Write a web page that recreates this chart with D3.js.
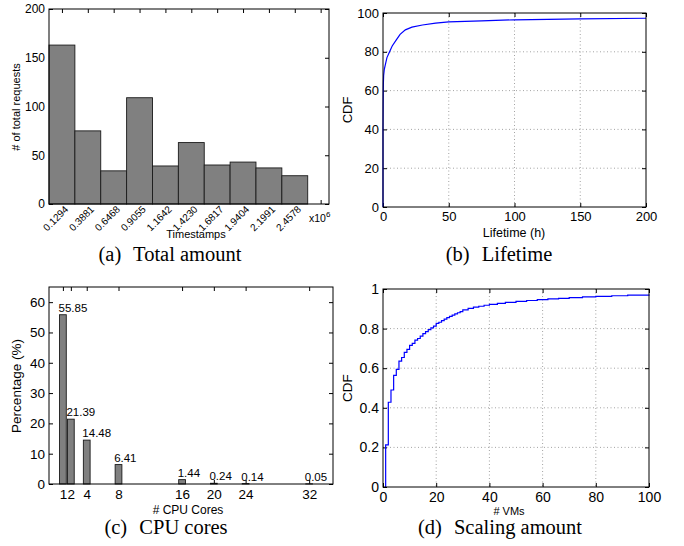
<!DOCTYPE html>
<html>
<head>
<meta charset="utf-8">
<script src="https://cdn.jsdelivr.net/npm/d3@7"></script>
<style>
  body { margin: 0; background: #fff; }
  svg text { font-family: "Liberation Sans", Arial, sans-serif; fill: #000; }
  svg .cap { font-family: "Liberation Serif", "Times New Roman", serif; font-size: 20.5px; }
</style>
</head>
<body>
<svg width="684" height="546"></svg>
<script>
// (a) total requests per timestamp bin (x10^6)
var binCenters = [0.1294, 0.3881, 0.6468, 0.9055, 1.1642, 1.4230, 1.6817, 1.9404, 2.1991, 2.4578, 2.7165];
var binLabels  = ['0.1294', '0.3881', '0.6468', '0.9055', '1.1642', '1.4230', '1.6817', '1.9404', '2.1991', '2.4578', ''];
var binCounts  = [163, 75, 34, 109, 39, 63, 40, 43, 37, 29];
var binWidth = 0.2587;

// (b) lifetime CDF
var lifeHours = [0, 0, 0.1, 0.2, 0.3, 0.5, 1, 2, 3, 5, 7, 10, 13, 17, 22, 30, 40, 50, 75, 100, 150, 200];
var lifeCdf   = [0, 40, 52, 60, 64, 68, 71, 74, 77, 80, 83, 86, 89, 91.3, 92.7, 93.8, 94.8, 95.4, 95.9, 96.5, 97.0, 97.3];

// (c) CPU cores share
var cores   = [1, 2, 4, 8, 16, 20, 24, 32];
var corePct = [55.85, 21.39, 14.48, 6.41, 1.44, 0.24, 0.14, 0.05];

// (d) scaling amount CDF (step)
var vms   = [1, 1, 2, 3, 4, 5, 6, 7, 8, 9, 10, 11, 12, 13, 14, 15, 16, 17, 18, 19, 20, 21, 22, 23, 24, 25, 26, 27, 28, 29, 30,
             32, 34, 36, 38, 40, 43, 46, 50, 54, 58, 62, 66, 70, 75, 80, 86, 92, 100];
var vmCdf = [0, 0.213, 0.428, 0.49, 0.564, 0.594, 0.636, 0.654, 0.68, 0.695, 0.715, 0.725, 0.742, 0.75, 0.762, 0.775, 0.785,
             0.795, 0.804, 0.812, 0.826, 0.832, 0.84, 0.848, 0.855, 0.862, 0.868, 0.874, 0.88, 0.886, 0.895,
             0.902, 0.908, 0.913, 0.918, 0.922, 0.927, 0.932, 0.937, 0.942, 0.946, 0.95, 0.953, 0.956, 0.96, 0.963, 0.966, 0.969, 0.972];

var svg = d3.select('svg');

// inward ticks on all four sides, like matlab
function frame(g, x, y, o) {
  var x0 = x.range()[0], x1 = x.range()[1], y0 = y.range()[1], y1 = y.range()[0];
  if (o.grid) {
    g.append('g').selectAll('line').data(o.xticks.filter(function(t){ return x(t) > x0 + 1 && x(t) < x1 - 1; }))
      .enter().append('line')
      .attr('x1', function(d){ return x(d); }).attr('x2', function(d){ return x(d); })
      .attr('y1', y0).attr('y2', y1)
      .attr('stroke', '#999').attr('stroke-width', 0.9).attr('stroke-dasharray', '1,2.5');
    g.append('g').selectAll('line').data(o.yticks.filter(function(t){ return y(t) > y0 + 1 && y(t) < y1 - 1; }))
      .enter().append('line')
      .attr('y1', function(d){ return y(d); }).attr('y2', function(d){ return y(d); })
      .attr('x1', x0).attr('x2', x1)
      .attr('stroke', '#999').attr('stroke-width', 0.9).attr('stroke-dasharray', '1,2.5');
  }
  var fs = o.fs || 12;
  var left = g.append('g').attr('transform', 'translate(' + x0 + ',0)')
    .call(d3.axisLeft(y).tickValues(o.yticks).tickSize(-4).tickPadding(4).tickFormat(o.yfmt || null));
  var right = g.append('g').attr('transform', 'translate(' + x1 + ',0)')
    .call(d3.axisRight(y).tickValues(o.yticks).tickSize(-4).tickFormat(''));
  var bottom = g.append('g').attr('transform', 'translate(0,' + y1 + ')')
    .call(d3.axisBottom(x).tickValues(o.xticks).tickSize(-4).tickPadding(5).tickFormat(o.xfmt || null));
  var top = g.append('g').attr('transform', 'translate(0,' + y0 + ')')
    .call(d3.axisTop(x).tickValues(o.xticks).tickSize(-4).tickFormat(''));
  [left, right, bottom, top].forEach(function(a){
    a.select('.domain').remove();
    a.selectAll('line').attr('stroke', '#000');
    a.selectAll('text').attr('font-size', fs).attr('font-family', null).attr('fill', '#000');
  });
  return { x0: x0, x1: x1, y0: y0, y1: y1 };
}

function box(g, f) {
  g.append('rect').attr('x', f.x0).attr('y', f.y0).attr('width', f.x1 - f.x0).attr('height', f.y1 - f.y0)
    .attr('fill', 'none').attr('stroke', '#000').attr('stroke-width', 1);
}

function ylabel(g, txt, cx, cy, fs) {
  g.append('text').attr('transform', 'translate(' + cx + ',' + cy + ') rotate(-90)')
    .attr('text-anchor', 'middle').attr('font-size', fs).text(txt);
}

function caption(g, tag, txt, cx, by) {
  var t = g.append('text').attr('class', 'cap').attr('x', cx).attr('y', by).attr('text-anchor', 'middle');
  t.append('tspan').text(tag);
  t.append('tspan').attr('dx', 7).text(' ' + txt);
}

// ---------- (a) ----------
var ga = svg.append('g');
var xa = d3.scaleLinear().domain([0, 2.8]).range([49, 329]);
var ya = d3.scaleLinear().domain([0, 200]).range([204, 9]);

var fa = frame(ga, xa, ya, { xticks: binCenters, yticks: [0, 50, 100, 150, 200], xfmt: function(){ return ''; }, fs: 12 });

ga.selectAll('rect.bar').data(binCounts).enter().append('rect')
  .attr('class', 'bar')
  .attr('x', function(d, i){ return xa(binCenters[i] - binWidth / 2); })
  .attr('width', xa(binWidth) - xa(0))
  .attr('y', function(d){ return ya(d); })
  .attr('height', function(d){ return ya(0) - ya(d); })
  .attr('fill', '#808080').attr('stroke', '#1a1a1a').attr('stroke-width', 0.9);

box(ga, fa);

ga.selectAll('text.xl').data(binLabels).enter().append('text')
  .attr('class', 'xl')
  .attr('text-anchor', 'end').attr('font-size', 10)
  .attr('transform', function(d, i){ return 'translate(' + (xa(binCenters[i]) + 7) + ',' + 210 + ') rotate(-45)'; })
  .text(function(d){ return d; });

var xm = ga.append('text').attr('x', 309).attr('y', 222).attr('font-size', 10.5);
xm.append('tspan').text('x10');
xm.append('tspan').attr('dy', -5).attr('font-size', 8).text('6');

ga.append('text').attr('x', 196).attr('y', 238).attr('text-anchor', 'middle').attr('font-size', 11).text('Timestamps');
ylabel(ga, '# of total requests', 20, 107, 11);
caption(ga, '(a)', 'Total amount', 170, 261);

// ---------- (b) ----------
var gb = svg.append('g');
var xb = d3.scaleLinear().domain([0, 200]).range([383, 646]);
var yb = d3.scaleLinear().domain([0, 100]).range([207, 13]);
var fb = frame(gb, xb, yb, { xticks: [0, 50, 100, 150, 200], yticks: [0, 20, 40, 60, 80, 100], grid: true, fs: 13 });
gb.append('path').datum(lifeHours)
  .attr('d', d3.line().x(function(d){ return xb(d); }).y(function(d, i){ return yb(lifeCdf[i]); }))
  .attr('fill', 'none').attr('stroke', '#0000ff').attr('stroke-width', 1.2);
box(gb, fb);
gb.append('text').attr('x', 514).attr('y', 237).attr('text-anchor', 'middle').attr('font-size', 12.5).text('Lifetime (h)');
ylabel(gb, 'CDF', 352, 110, 13);
caption(gb, '(b)', 'Lifetime', 499, 261);

// ---------- (c) ----------
var gc = svg.append('g');
var xc = d3.scaleLinear().domain([-0.75, 35]).range([49, 333]);
var yc = d3.scaleLinear().domain([0, 65]).range([484, 287]);
var coreW = 0.85;

var fc = frame(gc, xc, yc, { xticks: cores, yticks: [0, 10, 20, 30, 40, 50, 60], fs: 13.5 });

gc.selectAll('rect.bar').data(corePct).enter().append('rect')
  .attr('class', 'bar')
  .attr('x', function(d, i){ return xc(cores[i] - coreW / 2); })
  .attr('width', xc(coreW) - xc(0))
  .attr('y', function(d){ return yc(d); })
  .attr('height', function(d){ return yc(0) - yc(d); })
  .attr('fill', '#808080').attr('stroke', '#1a1a1a').attr('stroke-width', 0.9);

gc.selectAll('text.val').data(corePct).enter().append('text')
  .attr('class', 'val')
  .attr('x', function(d, i){ return xc(cores[i] - coreW / 2) - 1; })
  .attr('y', function(d){ return yc(d) - 3; })
  .attr('font-size', 11.5).text(function(d){ return d.toFixed(2); });

box(gc, fc);
gc.append('text').attr('x', 188).attr('y', 514).attr('text-anchor', 'middle').attr('font-size', 12).text('# CPU Cores');
ylabel(gc, 'Percentage (%)', 21, 386, 13.5);
caption(gc, '(c)', 'CPU cores', 166, 534);

// ---------- (d) ----------
var gd = svg.append('g');
var xd = d3.scaleLinear().domain([0, 100]).range([383, 649]);
var yd = d3.scaleLinear().domain([0, 1]).range([487, 289]);
var fd = frame(gd, xd, yd, { xticks: [0, 20, 40, 60, 80, 100], yticks: [0, 0.2, 0.4, 0.6, 0.8, 1], grid: true, fs: 14,
  yfmt: function(d){ return d3.format('~g')(d); } });
gd.append('path').datum(vms)
  .attr('d', d3.line().curve(d3.curveStepAfter).x(function(d){ return xd(d); }).y(function(d, i){ return yd(vmCdf[i]); }))
  .attr('fill', 'none').attr('stroke', '#0000ff').attr('stroke-width', 1.2);
box(gd, fd);
gd.append('text').attr('x', 509).attr('y', 515).attr('text-anchor', 'middle').attr('font-size', 11).text('# VMs');
ylabel(gd, 'CDF', 352, 388, 13.5);
caption(gd, '(d)', 'Scaling amount', 500, 534);
</script>
</body>
</html>
